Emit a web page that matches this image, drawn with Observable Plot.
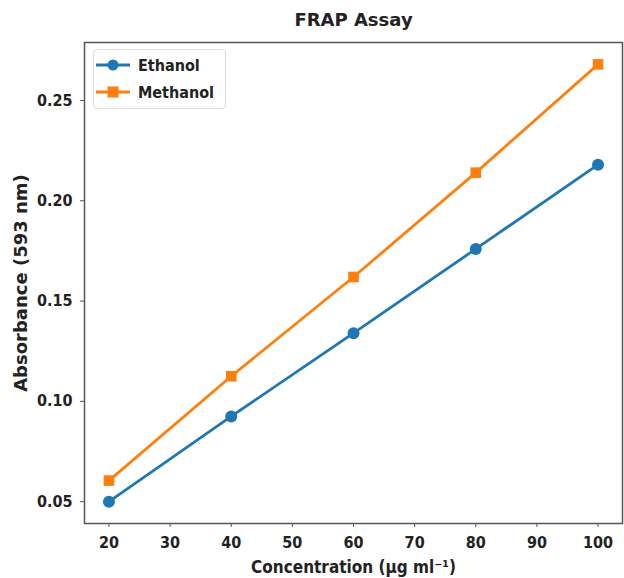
<!DOCTYPE html>
<html>
<head>
<meta charset="utf-8">
<script src="https://cdn.jsdelivr.net/npm/d3@7"></script>
<script src="https://cdn.jsdelivr.net/npm/@observablehq/plot@0.6"></script>
<style>
  html, body { margin: 0; padding: 0; background: #fff; }
  #wrap { position: relative; width: 624px; height: 578px; font-family: "DejaVu Sans Condensed", "DejaVu Sans", sans-serif; }
  #legend { position: absolute; left: 93px; top: 49px; width: 133px; height: 60px; border: 1px solid #dddddd; border-radius: 4px; background: rgba(255,255,255,0.85); box-sizing: border-box; }
  .row { position: absolute; left: 2px; display: flex; align-items: center; font-weight: bold; font-size: 16px; color: #222; }
  .row span { margin-left: 7px; }
</style>
</head>
<body>
<div id="wrap"></div>
<script>
const concentration = [20, 40, 60, 80, 100];
const ethanol = [0.050, 0.0925, 0.134, 0.176, 0.218];
const methanol = [0.0605, 0.1125, 0.162, 0.214, 0.268];
const seriesNames = ["Ethanol", "Methanol"];
const seriesColors = ["#1f77b4", "#ff7f0e"];
const xTicks = [20, 30, 40, 50, 60, 70, 80, 90, 100];
const yTicks = [0.05, 0.10, 0.15, 0.20, 0.25];

const rows = [];
concentration.forEach((c, i) => {
  rows.push({x: c, y: ethanol[i], s: seriesNames[0]});
  rows.push({x: c, y: methanol[i], s: seriesNames[1]});
});
const eth = rows.filter(d => d.s === "Ethanol");
const met = rows.filter(d => d.s === "Methanol");

const plot = Plot.plot({
  width: 624,
  height: 578,
  marginLeft: 84,
  marginRight: 2,
  marginTop: 42,
  marginBottom: 55,
  style: {fontFamily: '"DejaVu Sans Condensed", "DejaVu Sans", sans-serif', fontWeight: "bold", fontSize: "16px", color: "#222", background: "#fff"},
  x: {domain: [16, 104]},
  y: {domain: [0.0391, 0.2789]},
  marks: [
    Plot.frame({stroke: "#555", strokeWidth: 1.5}),
    Plot.axisX({ticks: xTicks, tickSize: 4, tickPadding: 9, tickFormat: d3.format("d"), label: null, stroke: "#555"}),
    Plot.axisX({ticks: [], label: "Concentration (µg ml⁻¹)", labelAnchor: "center", labelArrow: "none", labelOffset: 49, fontSize: 17}),
    Plot.axisY({ticks: yTicks, tickSize: 4, tickPadding: 8, tickFormat: d3.format(".2f"), label: null, stroke: "#555"}),
    Plot.axisY({ticks: [], label: "Absorbance (593 nm)", labelAnchor: "center", labelArrow: "none", labelOffset: 70, fontSize: 18, fontFamily: '"DejaVu Sans", sans-serif'}),
    Plot.line(eth, {x: "x", y: "y", stroke: seriesColors[0], strokeWidth: 2.8}),
    Plot.line(met, {x: "x", y: "y", stroke: seriesColors[1], strokeWidth: 2.8}),
    Plot.dot(eth, {x: "x", y: "y", fill: seriesColors[0], r: 6, symbol: "circle"}),
    Plot.dot(met, {x: "x", y: "y", fill: seriesColors[1], r: 6, symbol: "square"}),
    Plot.text(["FRAP Assay"], {frameAnchor: "top", lineAnchor: "middle", dy: -22, fontSize: 18, fontWeight: "bold", fontFamily: '"DejaVu Sans", sans-serif', fill: "#222"})
  ]
});

const wrap = document.getElementById("wrap");
wrap.appendChild(plot);

const legend = document.createElement("div");
legend.id = "legend";
seriesNames.forEach((name, i) => {
  const row = document.createElement("div");
  row.className = "row";
  row.style.top = (i === 0 ? 5 : 32) + "px";
  const sym = i === 0
    ? `<circle cx="17" cy="10" r="5.5" fill="${seriesColors[i]}"/>`
    : `<rect x="11.5" y="4.5" width="11" height="11" fill="${seriesColors[i]}"/>`;
  row.innerHTML = `<svg width="35" height="20"><line x1="0" y1="10" x2="34" y2="10" stroke="${seriesColors[i]}" stroke-width="2.8"/>${sym}</svg><span>${name}</span>`;
  legend.appendChild(row);
});
wrap.appendChild(legend);
</script>
</body>
</html>
